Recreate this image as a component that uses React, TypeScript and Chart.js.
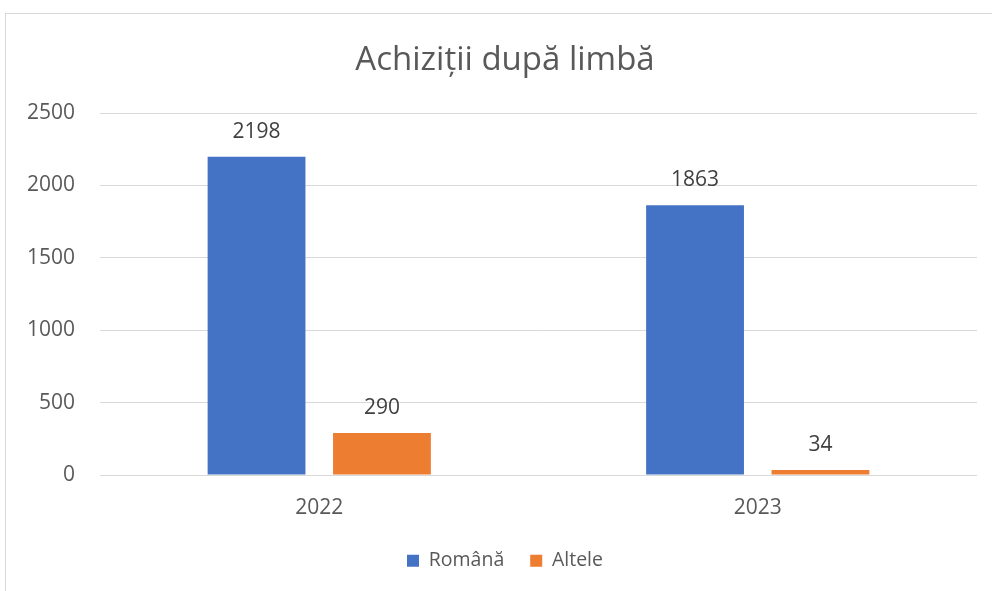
import React, { useEffect, useRef } from "react";
import { Chart, registerables } from "chart.js";

Chart.register(...registerables);

const categories = ["2022", "2023"];
const romanaValues = [2198, 1863];
const alteleValues = [290, 34];
const seriesNames = ["Română", "Altele"];
const yTicks = [0, 500, 1000, 1500, 2000, 2500];
const titleText = "Achiziții după limbă";

const FONT = "'Open Sans', 'Noto Sans', sans-serif";
const TEXT = "#595959";

const dataLabelPlugin = {
  id: "dataLabels",
  afterDatasetsDraw(chart: any) {
    const ctx = chart.ctx;
    ctx.save();
    ctx.font = `21px ${FONT}`;
    ctx.fillStyle = "#404040";
    ctx.textAlign = "center";
    ctx.textBaseline = "middle";
    chart.data.datasets.forEach((ds: any, i: number) => {
      const meta = chart.getDatasetMeta(i);
      meta.data.forEach((bar: any, j: number) => {
        ctx.fillText(String(ds.data[j]), bar.x, bar.y - 25);
      });
    });
    ctx.restore();
  },
};

export default function App() {
  const ref = useRef<HTMLCanvasElement | null>(null);
  useEffect(() => {
    if (!ref.current) return;
    const chart = new Chart(ref.current, {
      type: "bar",
      data: {
        labels: categories,
        datasets: [
          {
            label: seriesNames[0],
            data: romanaValues,
            backgroundColor: "#4472C4",
            categoryPercentage: 0.572,
            barPercentage: 0.78,
          },
          {
            label: seriesNames[1],
            data: alteleValues,
            backgroundColor: "#ED7D31",
            categoryPercentage: 0.572,
            barPercentage: 0.78,
          },
        ],
      },
      options: {
        responsive: false,
        animation: false,
        layout: { padding: { left: 22, right: 4, top: 0, bottom: 10.5 } },
        plugins: {
          title: {
            display: true,
            text: titleText,
            color: TEXT,
            font: { family: FONT, size: 33, weight: "normal" },
            padding: { top: 41, bottom: 32.5 },
          },
          legend: {
            position: "bottom",
            labels: {
              color: TEXT,
              font: { family: FONT, size: 19.5 },
              boxWidth: 12,
              boxHeight: 12,
              padding: 26,
            },
          },
          tooltip: { enabled: false },
        },
        scales: {
          x: {
            grid: { display: false, drawTicks: false },
            border: { display: false },
            ticks: { color: TEXT, font: { family: FONT, size: 21 }, padding: 20 },
            afterFit: (scale: any) => {
              scale.height = 50;
            },
          },
          y: {
            min: 0,
            max: 2500,
            afterBuildTicks: (scale: any) => {
              scale.ticks = yTicks.map((v) => ({ value: v }));
            },
            afterFit: (scale: any) => {
              scale.width = 78;
            },
            grid: { color: "#d9d9d9", drawTicks: false, lineWidth: 1 },
            border: { display: false },
            ticks: {
              color: TEXT,
              font: { family: FONT, size: 21 },
              padding: 25,
              callback: (v: any) => String(v),
            },
          },
          yRightSpacer: {
            type: "linear",
            position: "right",
            display: true,
            grid: { display: false, drawTicks: false },
            border: { display: false },
            ticks: { display: false },
            afterFit: (scale: any) => {
              scale.width = 11;
            },
          },
        },
      },
      plugins: [dataLabelPlugin],
    });
    return () => chart.destroy();
  }, []);

  return (
    <div style={{ position: "fixed", left: 0, top: 0, width: 992, height: 591, background: "#fff", overflow: "hidden" }}>
      <div
        style={{
          position: "absolute",
          left: 5,
          top: 13,
          width: 1000,
          height: 700,
          border: "1px solid #d9d9d9",
        }}
      />
      <canvas ref={ref} width={992} height={591} style={{ position: "absolute", left: 0, top: 0 }} />
    </div>
  );
}
